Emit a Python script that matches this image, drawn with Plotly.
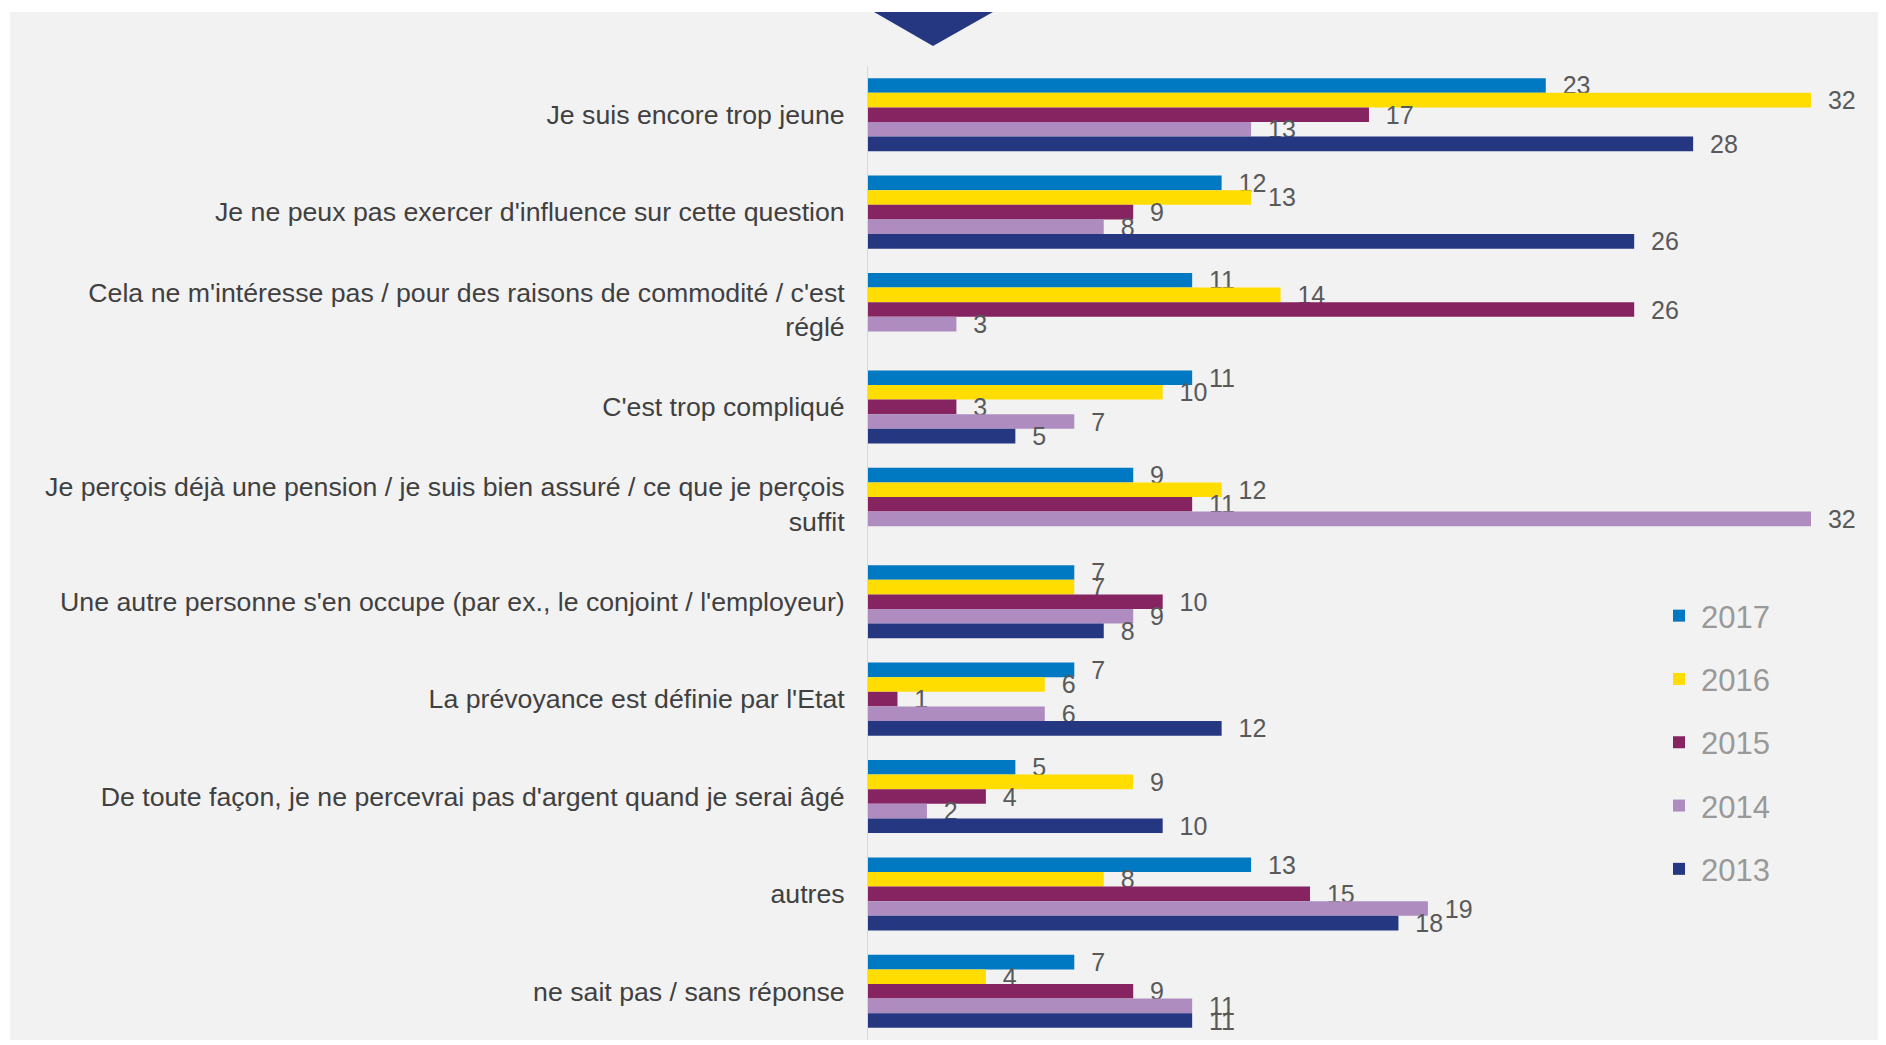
import plotly.graph_objects as go

CATEGORIES = [
    "Je suis encore trop jeune",
    "Je ne peux pas exercer d'influence sur cette question",
    "Cela ne m'intéresse pas / pour des raisons de commodité / c'est<br>réglé",
    "C'est trop compliqué",
    "Je perçois déjà une pension / je suis bien assuré / ce que je perçois<br>suffit",
    "Une autre personne s'en occupe (par ex., le conjoint / l'employeur)",
    "La prévoyance est définie par l'Etat",
    "De toute façon, je ne percevrai pas d'argent quand je serai âgé",
    "autres",
    "ne sait pas / sans réponse",
]

YEARS = ["2017", "2016", "2015", "2014", "2013"]
V2017 = [23, 12, 11, 11, 9, 7, 7, 5, 13, 7]
V2016 = [32, 13, 14, 10, 12, 7, 6, 9, 8, 4]
V2015 = [17, 9, 26, 3, 11, 10, 1, 4, 15, 9]
V2014 = [13, 8, 3, 7, 32, 9, 6, 2, 19, 11]
V2013 = [28, 26, None, 5, None, 8, 12, 10, 18, 11]
SERIES = [V2017, V2016, V2015, V2014, V2013]

COLORS = ['#0079C2', '#FFDD00', '#862461', '#AE8CC0', '#253780']
BG = '#f2f2f2'
FONT = 'Liberation Sans, Arial, sans-serif'

# the page body adds an 8px margin, so the figure is drawn 8px smaller
OFF = 8
W, H = 1886 - OFF, 1045 - OFF
PL, PR, PT, PB = 868 - OFF, 1886 - OFF, 66 - OFF, 1040 - OFF  # plot area in figure px

fig = go.Figure()
for year, vals, col in zip(YEARS, SERIES, COLORS):
    fig.add_trace(go.Bar(
        y=CATEGORIES, x=vals, name=year, orientation='h',
        marker=dict(color=col, line=dict(width=0)),
        texttemplate='\u00a0\u00a0%{x}', textposition='outside',
        textfont=dict(size=25, color='#595959', family=FONT),
        constraintext='none', cliponaxis=False,
        legendgroup=year,
    ))


# page-pixel -> paper coordinate helpers for decorative shapes
def px(x):
    return (x - OFF - PL) / (PR - PL)


def py(y):
    return (PB - (y - OFF)) / (PB - PT)


shapes = [
    # white frame strips around the grey panel
    dict(type='rect', xref='paper', yref='paper', x0=px(OFF), x1=px(10), y0=py(1045), y1=py(OFF),
         fillcolor='white', line=dict(width=0), layer='above'),
    dict(type='rect', xref='paper', yref='paper', x0=px(OFF), x1=px(1886), y0=py(12), y1=py(OFF),
         fillcolor='white', line=dict(width=0), layer='above'),
    dict(type='rect', xref='paper', yref='paper', x0=px(OFF), x1=px(1886), y0=py(1045), y1=py(1040),
         fillcolor='white', line=dict(width=0), layer='above'),
    # navy marker triangle at the top
    dict(type='path', xref='paper', yref='paper',
         path=f'M {px(874)},{py(12)} L {px(993)},{py(12)} L {px(933)},{py(46)} Z',
         fillcolor='#253780', line=dict(width=0)),
]

fig.update_layout(
    width=W, height=H,
    paper_bgcolor=BG, plot_bgcolor=BG,
    margin=dict(l=PL, r=W - PR, t=PT, b=H - PB),
    barmode='group', bargap=0.25, bargroupgap=0,
    font=dict(family=FONT, color='#404040'),
    xaxis=dict(range=[0, 34.545], visible=False, showgrid=False, zeroline=False),
    yaxis=dict(autorange='reversed', showline=True, linecolor='#d9d9d9', linewidth=1,
               showgrid=False, ticks='', ticklabelstandoff=17,
               tickfont=dict(size=26.7, color='#404040', family=FONT)),
    legend=dict(x=px(1657), y=py(589), xanchor='left', yanchor='top',
                traceorder='grouped', tracegroupgap=20, itemwidth=34,
                font=dict(size=31, color='#999999', family=FONT),
                bgcolor='rgba(0,0,0,0)'),
    shapes=shapes,
)

fig.write_html("out.html")
